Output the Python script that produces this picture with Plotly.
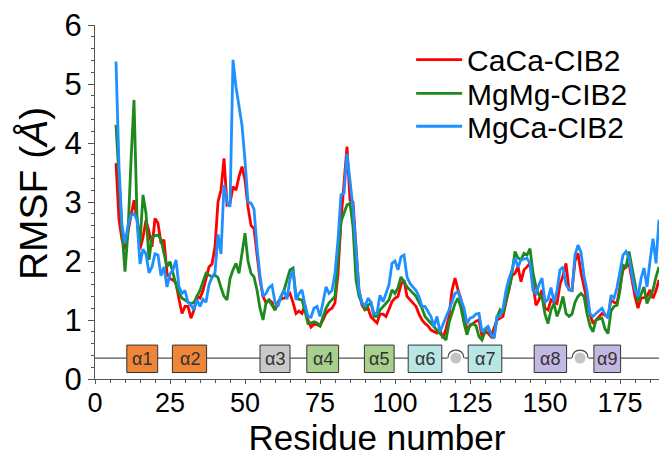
import plotly.graph_objects as go

residues = list(range(7, 189))

rmsf_caca = [
    3.66, 2.7, 2.36, 2.2, 2.5, 2.75, 3.03, 2.7, 2.2, 2.4,
    2.69, 2.5, 2.24, 2.72, 2.64, 2.3, 2.36, 1.79, 1.7, 1.68,
    1.62, 1.35, 1.11, 1.23, 1.23, 1.03, 1.17, 1.4, 1.37, 1.5,
    1.7, 1.9, 1.95, 2.24, 3.0, 3.2, 3.74, 2.95, 2.98, 3.26,
    3.2, 3.43, 3.6, 3.37, 2.92, 2.6, 2.55, 2.13, 1.68, 1.4,
    1.29, 1.34, 1.3, 1.17, 1.3, 1.36, 1.37, 1.4, 1.45, 1.3,
    1.11, 1.15, 1.11, 1.25, 1.0, 0.88, 0.93, 0.92, 0.9, 1.0,
    1.11, 1.17, 1.2, 1.29, 1.79, 2.69, 3.32, 3.94, 3.03, 3.0,
    2.24, 1.5, 1.25, 1.17, 1.2, 1.05, 1.0, 0.95, 1.1, 1.1,
    1.06, 1.2, 1.31, 1.37, 1.4, 1.6, 1.68, 1.4, 1.34, 1.28,
    1.23, 1.1, 1.0, 0.94, 0.9, 0.83, 0.8, 0.78, 0.83, 0.69,
    0.85, 1.06, 1.5, 1.71, 1.51, 1.35, 1.1, 0.83, 0.9, 0.94,
    0.98, 1.0, 0.72, 0.8, 0.78, 0.72, 0.85, 1.0, 1.03, 1.06,
    1.3, 1.5, 1.75, 1.79, 1.9, 1.65, 1.85, 1.9, 1.96, 1.6,
    1.25, 1.34, 1.51, 1.2, 1.17, 1.34, 1.3, 1.28, 1.6, 1.75,
    1.96, 1.51, 1.5, 2.0, 2.13, 1.8, 1.56, 1.3, 1.1, 0.94,
    1.0, 1.05, 1.11, 1.08, 1.06, 1.34, 1.3, 1.28, 1.6, 1.85,
    1.9, 1.96, 1.68, 1.4, 1.2, 1.37, 1.38, 1.4, 1.51, 1.37,
    1.5, 1.68,
]

rmsf_mgmg = [
    4.31, 3.3, 2.5, 1.82, 2.5, 3.7, 4.73, 2.75, 2.3, 3.12,
    2.81, 2.02, 2.41, 2.43, 2.44, 2.36, 2.1, 1.9, 1.99, 1.79,
    1.6, 1.45, 1.37, 1.34, 1.3, 1.28, 1.3, 1.4, 1.5, 1.65,
    1.79, 1.76, 1.73, 1.76, 1.72, 1.55, 1.4, 1.34, 1.7, 1.85,
    1.96, 1.79, 2.1, 2.47, 2.0, 1.79, 1.73, 1.51, 1.2, 1.0,
    1.29, 1.34, 1.25, 1.17, 1.29, 1.4, 1.5, 1.68, 1.85, 1.88,
    1.4, 1.35, 1.34, 1.15, 0.94, 0.95, 0.97, 0.95, 0.9, 1.05,
    1.2, 1.29, 1.35, 1.4, 2.02, 2.67, 2.81, 2.95, 2.98, 2.58,
    1.68, 1.4, 1.29, 1.17, 1.25, 1.29, 1.06, 1.06, 1.17, 1.23,
    1.29, 1.34, 1.51, 1.45, 1.55, 1.73, 1.65, 1.56, 1.51, 1.45,
    1.4, 1.3, 1.2, 1.06, 1.0, 0.94, 0.88, 0.83, 0.77, 0.72,
    0.66, 0.95, 1.1, 1.28, 1.37, 1.2, 0.95, 0.75, 0.92, 0.94,
    0.9, 0.72, 0.66, 0.8, 0.89, 0.75, 0.69, 1.05, 1.17, 1.11,
    1.35, 1.51, 1.8, 2.16, 2.05, 2.02, 2.13, 2.1, 2.21, 1.8,
    1.56, 1.42, 1.4, 1.1, 0.94, 1.17, 1.28, 1.06, 1.2, 1.4,
    1.11, 1.06, 1.1, 1.3, 1.4, 1.45, 1.4, 1.11, 0.9, 0.8,
    1.0, 1.02, 1.03, 0.85, 0.77, 1.15, 1.23, 1.25, 1.5, 1.93,
    1.9, 2.16, 1.9, 1.62, 1.31, 1.45, 1.56, 1.28, 1.4, 1.51,
    1.73, 1.9,
]

rmsf_mgca = [
    5.38, 3.6, 2.6, 2.3, 2.6, 2.78, 2.8, 2.7, 1.95, 2.2,
    2.12, 1.8, 1.9, 2.12, 2.1, 1.75, 1.9, 1.56, 1.78, 1.85,
    2.02, 1.56, 1.45, 1.5, 1.3, 1.25, 1.17, 1.34, 1.23, 1.35,
    1.3, 1.6, 1.72, 1.8, 2.45, 2.12, 3.29, 3.0, 2.92, 5.41,
    4.95, 4.65, 4.3, 3.7, 3.0, 2.98, 2.88, 2.24, 1.75, 1.4,
    1.45, 1.55, 1.59, 1.3, 1.23, 1.4, 1.51, 1.35, 1.7, 1.85,
    1.34, 1.45, 1.51, 1.25, 1.06, 1.05, 1.2, 1.23, 1.06, 1.3,
    1.56, 1.45, 1.5, 1.79, 2.36, 3.12, 3.15, 3.82, 3.3, 2.9,
    2.2, 1.5, 1.3, 1.23, 1.37, 1.3, 1.11, 1.11, 1.42, 1.31,
    1.45, 1.6, 1.96, 2.0, 1.85, 2.07, 2.1, 1.73, 1.62, 1.55,
    1.5, 1.4, 1.23, 1.23, 1.15, 1.06, 0.89, 1.06, 0.8, 0.94,
    1.05, 1.17, 1.3, 1.45, 1.48, 1.35, 1.2, 0.94, 1.03, 1.05,
    1.1, 1.11, 0.8, 0.85, 0.89, 0.75, 0.7, 1.06, 1.06, 1.2,
    1.5, 1.7, 1.85, 2.05, 1.9, 2.02, 2.04, 2.05, 1.96, 1.5,
    1.45, 1.6, 1.71, 1.3, 1.35, 1.55, 1.3, 1.5, 1.85, 1.9,
    1.6, 1.52, 1.5, 2.1, 2.27, 2.15, 1.75, 1.5, 1.1, 1.06,
    1.11, 1.15, 1.2, 1.1, 1.03, 1.42, 1.37, 1.55, 1.85, 2.1,
    2.16, 2.05, 1.75, 1.5, 1.4, 1.7, 1.88, 1.56, 2.0, 2.38,
    1.96, 2.7,
]

series_names = ["CaCa-CIB2", "MgMg-CIB2", "MgCa-CIB2"]
series_colors = ["#FF0000", "#1E8A1E", "#1E90FF"]
legend_ids = ["legend", "legend2", "legend3"]
legend_rows_y = [0.902, 0.807, 0.714]

helix_labels = ["α1", "α2", "α3", "α4", "α5", "α6", "α7", "α8", "α9"]
helix_start = [10.6, 25.8, 55.0, 70.6, 89.8, 104.4, 124.4, 146.4, 166.3]
helix_end = [20.9, 37.2, 65.0, 81.2, 99.7, 115.6, 135.6, 157.2, 175.2]
helix_colors = ["#ED8637", "#ED8637", "#C9C9C9", "#A8D08D", "#A8D08D",
                "#B7E6E4", "#B7E6E4", "#C3B8E2", "#C3B8E2"]
loop_positions = [120.3, 161.7]

track_y = 0.355
box_lo, box_hi = 0.11, 0.575
x_max = 188

font = "Arial, 'Liberation Sans', sans-serif"

fig = go.Figure()
for name, vals, col, lg in zip(series_names, [rmsf_caca, rmsf_mgmg, rmsf_mgca],
                               series_colors, legend_ids):
    fig.add_trace(go.Scatter(x=residues, y=vals, mode="lines", name=name, legend=lg,
                             line=dict(color=col, width=2.8)))

shapes = []
shapes.append(dict(type="line", xref="x", yref="y", x0=0, x1=x_max, y0=track_y, y1=track_y,
                   line=dict(color="#555555", width=1.3), layer="above"))
for s, e, c in zip(helix_start, helix_end, helix_colors):
    shapes.append(dict(type="rect", xref="x", yref="y", x0=s, x1=e, y0=box_lo, y1=box_hi,
                       fillcolor=c, line=dict(color="#333333", width=1), layer="above"))
for lp in loop_positions:
    shapes.append(dict(type="line", xref="x", yref="y", xsizemode="pixel", ysizemode="pixel",
                       xanchor=lp, yanchor=track_y, x0=-8.6, x1=8.6, y0=0, y1=0,
                       line=dict(color="white", width=3), layer="above"))
    shapes.append(dict(type="path", xref="x", yref="y", xsizemode="pixel", ysizemode="pixel",
                       xanchor=lp, yanchor=track_y,
                       path="M-8,0 C-8,10.7 8,10.7 8,0",
                       line=dict(color="#444444", width=1.2), layer="above"))
    shapes.append(dict(type="circle", xref="x", yref="y", xsizemode="pixel", ysizemode="pixel",
                       xanchor=lp, yanchor=track_y, x0=-5.5, x1=5.5, y0=-5.5, y1=5.5,
                       fillcolor="#C4C4C4", line=dict(width=0), layer="above"))

annotations = []
for lab, s, e in zip(helix_labels, helix_start, helix_end):
    annotations.append(dict(x=(s + e) / 2, y=(box_lo + box_hi) / 2, xref="x", yref="y",
                            text=lab, showarrow=False,
                            font=dict(family=font, size=18, color="#333333")))
annotations.append(dict(x=-0.11, y=0.525, xref="paper", yref="paper", text="RMSF (<i>Å</i>)",
                        showarrow=False, xanchor="center", yanchor="middle", textangle=-90,
                        font=dict(family=font, size=39, color="#000000")))

legend_common = dict(xanchor="left", yanchor="middle", bgcolor="rgba(0,0,0,0)",
                     font=dict(family=font, size=30, color="#000000"), itemwidth=46)
layout_legends = {}
for lg, ly in zip(legend_ids, legend_rows_y):
    layout_legends[lg] = dict(x=0.5605, y=ly, **legend_common)

fig.update_layout(
    width=659, height=457,
    margin=dict(l=95, r=0, t=25, b=78),
    paper_bgcolor="white", plot_bgcolor="white",
    font=dict(family=font, color="#000000"),
    showlegend=True,
    shapes=shapes,
    annotations=annotations,
    **layout_legends,
)
fig.update_xaxes(range=[0, x_max], tickvals=[0, 25, 50, 75, 100, 125, 150, 175],
                 ticks="outside", ticklen=4, tickwidth=1, tickcolor="#555555",
                 showline=True, linecolor="#555555", linewidth=1, showgrid=False, zeroline=False,
                 tickfont=dict(family=font, size=27, color="#000000"),
                 ticklabelstandoff=-4,
                 title=dict(text="Residue number", standoff=2,
                            font=dict(family=font, size=35, color="#000000")),
                 automargin=False,
                 minor=dict(dtick=5, tick0=0, ticks="outside", ticklen=3, tickcolor="#555555"))
fig.update_yaxes(range=[0, 6], dtick=1, ticks="outside", ticklen=6, tickwidth=1,
                 tickcolor="#555555", showline=True, linecolor="#555555", linewidth=1,
                 showgrid=False, zeroline=False,
                 tickfont=dict(family=font, size=31, color="#000000"),
                 minor=dict(dtick=0.2, tick0=0, ticks="outside", ticklen=3, tickcolor="#555555"))

fig.write_html("out.html")
